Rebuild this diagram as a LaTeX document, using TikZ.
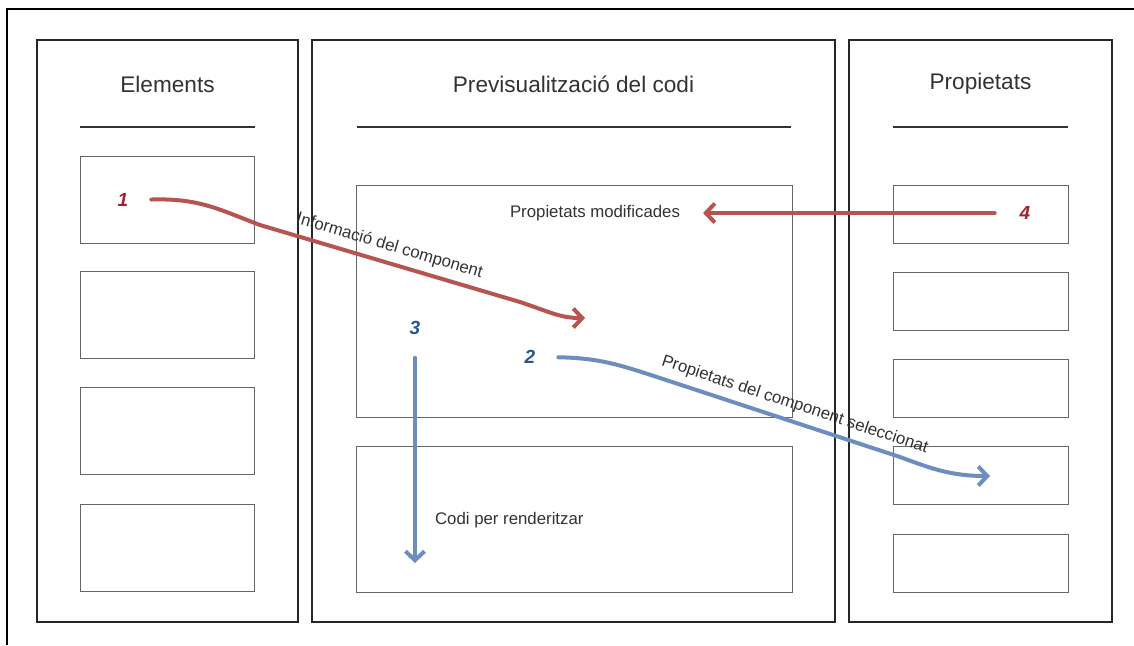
\documentclass[tikz,border=0pt]{standalone}
\usepackage{fontspec}
\setmainfont{Liberation Sans}
\usetikzlibrary{arrows.meta}

\definecolor{arrowred}{RGB}{184,84,80}
\definecolor{arrowblue}{RGB}{108,142,191}
\definecolor{numred}{RGB}{160,35,50}
\definecolor{numblue}{RGB}{40,85,140}
\definecolor{inkgray}{RGB}{50,50,50}

\tikzset{
  panel/.style={draw=black!85, line width=0.7pt, minimum height=291pt, inner sep=0pt},
  slot/.style={draw=black!60, line width=0.5pt, inner sep=0pt},
  title/.style={text=inkgray, font=\fontsize{11.3}{13}\selectfont},
  note/.style={text=inkgray, font=\fontsize{8.4}{10}\selectfont},
  num/.style={font=\fontsize{9.5}{11}\selectfont\bfseries\itshape},
  flowred/.style={draw=arrowred, line width=2pt, line cap=round, line join=round,
    -{Straight Barb[length=4.5pt,width=9.5pt]}},
  flowblue/.style={draw=arrowblue, line width=2pt, line cap=round, line join=round,
    -{Straight Barb[length=4.5pt,width=9.5pt]}}
}

\begin{document}
\begin{tikzpicture}[x=0.5pt, y=-0.5pt]
\useasboundingbox (0,0) rectangle (1134,645);

% outer frame
\draw[line width=0.6pt] (7,645) -- (7,9) -- (1134,9);

% panels
\node[panel, minimum width=130.5pt] (elements) at (167.5,331) {};
\node[panel, minimum width=261.5pt] (preview) at (573.5,331) {};
\node[panel, minimum width=131.5pt] (props) at (980.5,331) {};

% titles
\node[title] (telements) at (167.5,84) {Elements};
\node[title] (tpreview) at (573.5,84) {Previsualització del codi};
\node[title] (tprops) at (980.5,84) {Propietats};
\draw[line width=0.6pt, black!80] (80,127) -- (255,127);
\draw[line width=0.6pt, black!80] (357,127) -- (791,127);
\draw[line width=0.6pt, black!80] (893,127) -- (1068,127);

% element slots
\node[slot, minimum width=87pt, minimum height=43.5pt] (el1) at (167.5,199.5) {};
\node[slot, minimum width=87pt, minimum height=43.5pt] (el2) at (167.5,314.5) {};
\node[slot, minimum width=87pt, minimum height=43.5pt] (el3) at (167.5,431) {};
\node[slot, minimum width=87pt, minimum height=43.5pt] (el4) at (167.5,547.5) {};

% preview areas
\node[slot, minimum width=218pt, minimum height=116pt] (view) at (574,301) {};
\node[slot, minimum width=218pt, minimum height=73pt] (code) at (574,519) {};

% property slots
\node[slot, minimum width=87.5pt, minimum height=29pt] (pr1) at (980.5,214) {};
\node[slot, minimum width=87.5pt, minimum height=29pt] (pr2) at (980.5,301) {};
\node[slot, minimum width=87.5pt, minimum height=29pt] (pr3) at (980.5,388) {};
\node[slot, minimum width=87.5pt, minimum height=29pt] (pr4) at (980.5,475.5) {};
\node[slot, minimum width=87.5pt, minimum height=29pt] (pr5) at (980.5,563) {};

% texts and numbers
\node[note] (modif) at (595,213) {Propietats modificades};
\node[note, anchor=west] (render) at (428,520) {Codi per renderitzar};
\node[num, text=numred] (n1) at (123,200) {1};
\node[num, text=numblue] (n2) at (530,357) {2};
\node[num, text=numblue] (n3) at (415,328) {3};
\node[num, text=numred] (n4) at (1025,213) {4};
\coordinate (e1) at (585,318);
\coordinate (e2) at (990,476);
\coordinate (e3) at (415,563);

% flows
\draw[flowred, shorten <=8pt] (n1.east) .. controls (200,198) and (220,210) .. (260,225)
  -- node[note, sloped, above, pos=0.48] {Informació del component} (520,302)
  .. controls (550,312) and (560,318) .. (e1);
\draw[flowblue, shorten <=8pt] (n2.east) .. controls (600,358) and (620,365) .. (660,378)
  -- node[note, sloped, above, pos=0.54] {Propietats del component seleccionat} (900,457)
  .. controls (930,468) and (950,476) .. (e2);
\draw[flowblue, shorten <=8pt] (n3.south) -- (e3);
\draw[flowred, shorten <=9pt, shorten >=8pt] (n4.west) -- (modif.east);

\end{tikzpicture}
\end{document}
